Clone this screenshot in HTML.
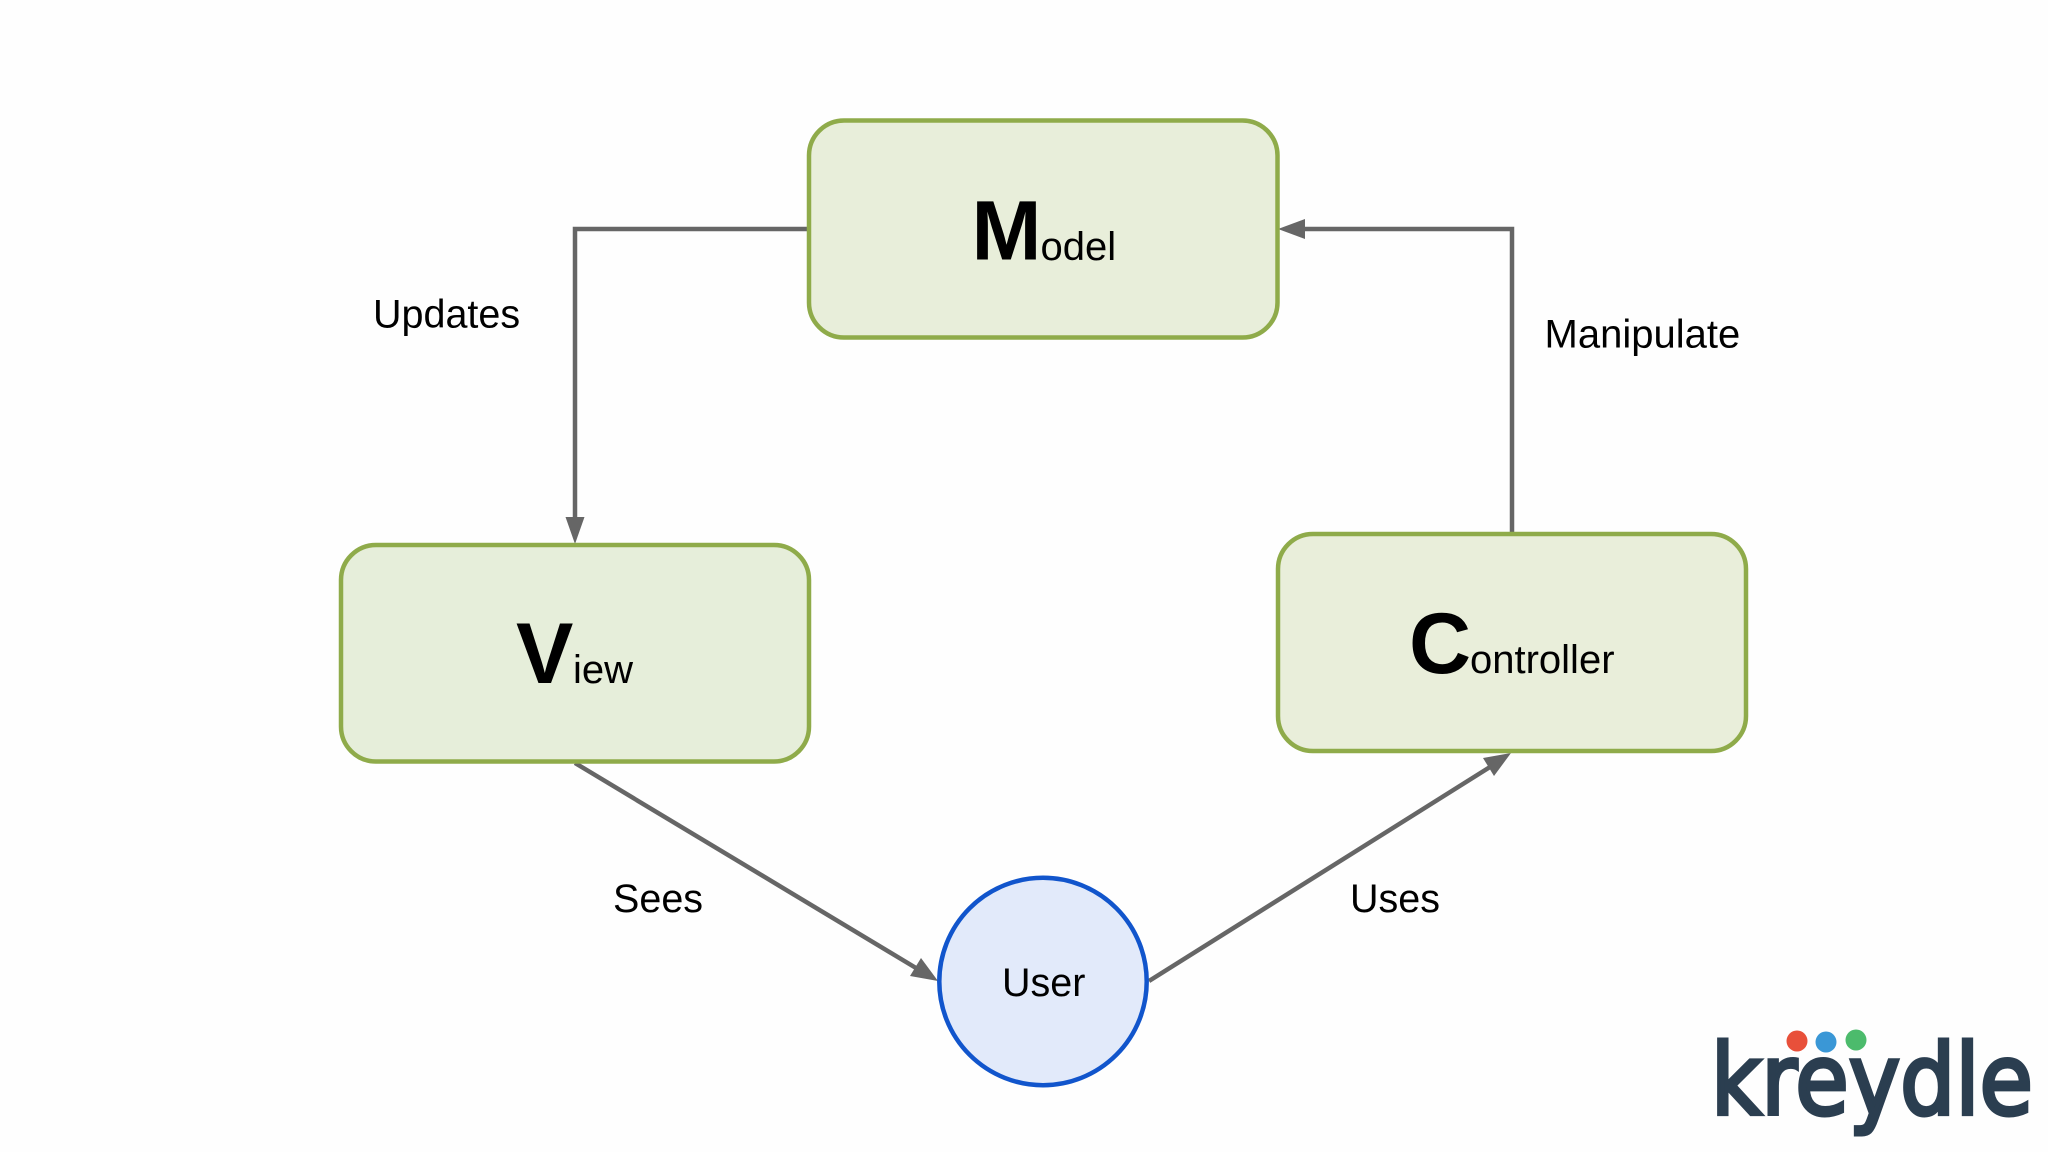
<!DOCTYPE html>
<html><head><meta charset="utf-8"><style>
html,body{margin:0;padding:0;background:#fff;width:2048px;height:1152px;overflow:hidden}
svg{display:block}
text{font-family:"Liberation Sans",Arial,sans-serif;fill:#000}
.l{font-size:39.500px}.s{font-size:40px}.b{font-size:86px;font-weight:bold}
</style></head><body>
<svg width="2048" height="1152" viewBox="0 0 2048 1152" xmlns="http://www.w3.org/2000/svg">
<rect width="2048" height="1152" fill="#fefefe"/>
<g fill="none" stroke="#666" stroke-width="4.500">
<path d="M810 229H575V520"/>
<path d="M1512 532V229H1300"/>
<path d="M575 763L916 968"/>
<path d="M1149 981L1490 767"/>
</g>
<g fill="#666">
<polygon points="575,544 565.500,517 584.500,517"/>
<polygon points="1278,229 1305,219 1305,239"/>
<polygon points="938,981 910,976 921,958"/>
<polygon points="1511,753 1494,776 1483,758"/>
</g>
<g stroke="#8fab4a" stroke-width="4.500">
<rect x="809" y="120.500" width="468.500" height="217" rx="35" fill="#e8eeda"/>
<rect x="341" y="545" width="468" height="216.500" rx="35" fill="#e6eeda"/>
<rect x="1278" y="534" width="468" height="217" rx="35" fill="#e9eeda"/>
</g>
<circle cx="1043" cy="981.500" r="103.700" fill="#e2eafa" stroke="#1155cc" stroke-width="4.500"/>
<text class="b" x="971.500" y="259.500" style="font-size:84px">M</text><text class="s" x="1040.500" y="260">odel</text>
<text class="b" x="516" y="683">V</text><text class="s" x="573" y="683">iew</text>
<text class="b" x="1409" y="673">C</text><text class="s" x="1470" y="673">ontroller</text>
<text class="l" x="1002" y="996">User</text>
<text class="l" x="373" y="327.500">Updates</text>
<text class="s" x="1544.500" y="347.500">Manipulate</text>
<text class="l" x="613" y="912">Sees</text>
<text class="l" x="1350" y="912">Uses</text>
<text x="1711" y="1114" textLength="322" lengthAdjust="spacingAndGlyphs" style="font-family:'DejaVu Sans',sans-serif;font-size:98px;fill:#2b3e50;stroke:#2b3e50;stroke-width:4px">kreydle</text>
<circle cx="1797" cy="1041" r="10.500" fill="#e8503a"/>
<circle cx="1826" cy="1042" r="10.500" fill="#3a97d6"/>
<circle cx="1856" cy="1040" r="10.500" fill="#4cbb6c"/>
</svg>
</body></html>
